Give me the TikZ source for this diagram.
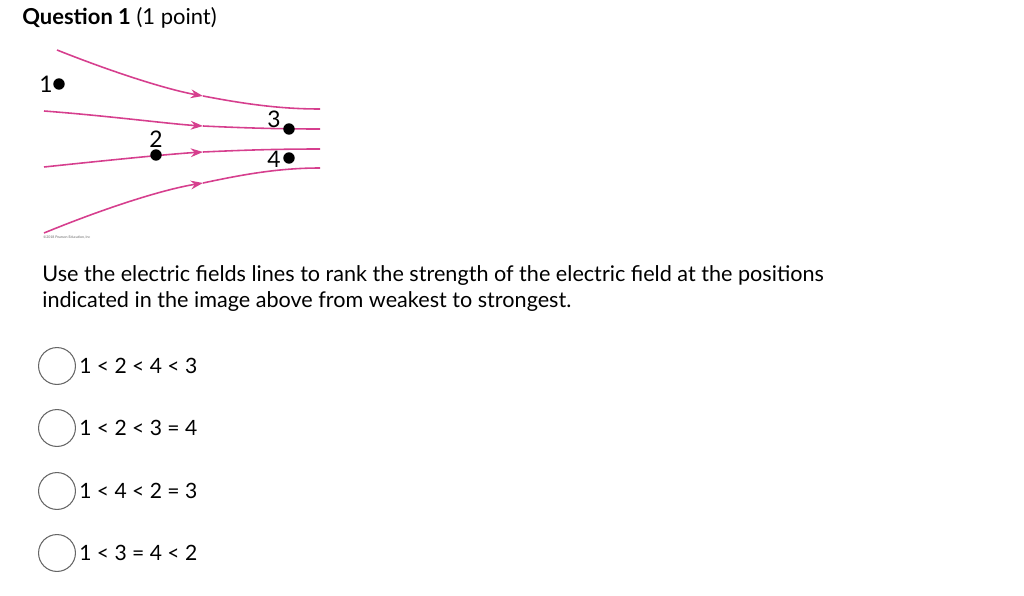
\documentclass[tikz,border=0pt]{standalone}
\usepackage{fontspec}
\setmainfont{Lato}
\usetikzlibrary{arrows.meta}
\definecolor{fl}{HTML}{D63F8E}
\begin{document}
\begin{tikzpicture}[x=0.02cm,y=-0.02cm,
  fline/.style={fl,line width=0.9pt},
  arr/.style={fline,-{Stealth[length=7pt,width=5pt]}},
  dot/.style={circle,fill=black,inner sep=0pt,minimum size=6.5pt},
  lab/.style={font=\fontsize{13}{13}\selectfont\rmfamily,inner sep=0pt},
  radio/.style={circle,draw=black!60,line width=0.6pt,minimum size=21pt,inner sep=0pt},
  opt/.style={anchor=west,font=\fontsize{12}{14}\selectfont,inner sep=0pt},
  body/.style={anchor=north west,font=\fontsize{12.3}{14.7}\selectfont,inner sep=0pt,align=left}]
\useasboundingbox (0,0) rectangle (1024,595);
\node[anchor=west,inner sep=0pt,font=\fontsize{12.5}{14}\selectfont] (q) at (22,18) {\textbf{Question 1} (1 point)};
% field lines
\coordinate (a1) at (203,96); \coordinate (a2) at (203,126); \coordinate (a3) at (203,152); \coordinate (a4) at (203,183);
\coordinate (s1) at (57,50); \coordinate (s2) at (44,111); \coordinate (s3) at (44,167); \coordinate (s4) at (44,233);
\coordinate (e1) at (320,109); \coordinate (e2) at (320,129); \coordinate (e3) at (320,149); \coordinate (e4) at (320,168);
\draw[arr] (s1) .. controls (120,75) and (170,90) .. (a1);
\draw[fline] (a1) .. controls (245,104) and (280,109) .. (e1);
\draw[arr] (s2) .. controls (110,116) and (170,124) .. (a2);
\draw[fline] (a2) .. controls (245,128) and (280,129) .. (e2);
\draw[arr] (s3) .. controls (110,160) and (170,154) .. (a3);
\draw[fline] (a3) .. controls (245,150) and (280,149) .. (e3);
\draw[arr] (s4) .. controls (100,210) and (160,190) .. (a4);
\draw[fline] (a4) .. controls (245,174) and (280,168) .. (e4);
% points
\node[dot] (p1) at (59,84) {}; \node[lab] (l1) at (46,84) {1};
\node[dot] (p2) at (156,155) {}; \node[lab] (l2) at (156,139) {2};
\node[dot] (p3) at (289,129) {}; \node[lab] (l3) at (274,119) {3};
\node[dot] (p4) at (289,158) {}; \node[lab] (l4) at (274,159) {4};
\node[anchor=west,inner sep=0pt,font=\fontsize{2}{2}\selectfont,text=black!60] (cp) at (43,237) {\textcopyright2018 Pearson Education, Inc};
\node[body] (t) at (42,265) {Use the electric fields lines to rank the strength of the electric field at the positions\\indicated in the image above from weakest to strongest.};
\foreach \y/\s [count=\i] in {366/{1 < 2 < 4 < 3},428/{1 < 2 < 3 = 4},491/{1 < 4 < 2 = 3},553/{1 < 3 = 4 < 2}}{
  \node[radio] (r\i) at (57,\y) {};
  \node[opt] (o\i) at (79,\y) {\s};
}
\end{tikzpicture}
\end{document}
